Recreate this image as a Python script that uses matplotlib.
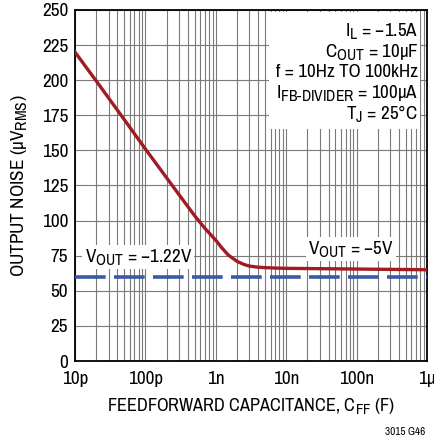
# Output noise vs feedforward capacitance (3015 G46)
import numpy as np
import matplotlib
matplotlib.use('Agg')
import matplotlib.pyplot as plt
from matplotlib.patches import Rectangle
from matplotlib import font_manager
import matplotlib._mathtext as _mt

# Bigger subscripts, closer to the datasheet look.
_mt.SHRINK_FACTOR = 0.82

# Prefer a condensed sans if one is installed, else plain Liberation Sans.
narrow = [f.name for f in font_manager.fontManager.ttflist
          if ('Narrow' in f.name or 'Condensed' in f.name)
          and 'Mono' not in f.name and 'Serif' not in f.name]
if narrow:
    plt.rcParams['font.family'] = [narrow[0], 'Liberation Sans', 'DejaVu Sans']
    fs = 13.2
else:
    plt.rcParams['font.family'] = ['Liberation Sans', 'DejaVu Sans']
    fs = 11.5
plt.rcParams['mathtext.default'] = 'regular'

# --------------------------------------------------------------------------- #
# Data.
cff = [10e-12, 20e-12, 50e-12, 100e-12, 200e-12, 300e-12, 500e-12, 700e-12,
       1e-9, 1.2e-9, 1.5e-9, 2e-9, 2.5e-9, 3e-9, 4e-9, 5e-9, 7e-9, 10e-9,
       100e-9, 1e-6]
noise_5v = [220, 199.5, 172, 151, 130.5, 118.5, 103.5, 94.5,
            86, 81, 75.5, 71, 68.8, 67.6, 66.8, 66.5, 66.2, 66,
            65.5, 65]
cff_flat = [10e-12, 1e-6]
noise_122v = [60, 60]

yticks = [0, 25, 50, 75, 100, 125, 150, 175, 200, 225, 250]
xticks = [10e-12, 100e-12, 1e-9, 10e-9, 100e-9, 1e-6]
xticklabels = ['10p', '100p', '1n', '10n', '100n', '1\u03bc']

conditions = ['I$_L$ = \u22121.5A',
              'C$_{OUT}$ = 10\u03bcF',
              'f = 10Hz TO 100kHz',
              'I$_{FB\u2010DIVIDER}$ = 100\u03bcA',
              'T$_J$ = 25\u00b0C']

# --------------------------------------------------------------------------- #
fig = plt.figure(figsize=(4.35, 4.42), dpi=100)
ax = fig.add_axes([75/435, 81/442, 352/435, 351/442])

ax.set_xscale('log')
ax.set_xlim(10e-12, 1e-6)
ax.set_ylim(0, 250)

# grid
ax.grid(True, which='both', axis='x', color='#7a7a7a', linewidth=0.8)
ax.grid(True, which='major', axis='y', color='#7a7a7a', linewidth=0.8)
ax.set_axisbelow(True)

ax.plot(cff_flat, noise_122v, color='#3a5aa8', linewidth=2.6,
        dashes=(8.5, 2.3), zorder=3)
ax.plot(cff, noise_5v, color='#a01c22', linewidth=2.4, zorder=4,
        solid_joinstyle='round')

ax.set_xticks(xticks)
ax.set_xticklabels(xticklabels)
ax.set_yticks(yticks)
ax.tick_params(which='both', length=0, labelsize=fs + 0.6, pad=5)
ax.tick_params(axis='x', pad=7)
for sp in ax.spines.values():
    sp.set_linewidth(1.3)

ax.set_xlabel('FEEDFORWARD CAPACITANCE, C$_{FF}$ (F)', fontsize=fs, labelpad=7)
ax.set_ylabel('OUTPUT NOISE (\u03bcV$_{RMS}$)', fontsize=fs + 0.6, labelpad=9)

# condition block with white background
ax.add_patch(Rectangle((0.55, 0.66), 0.43, 0.335, transform=ax.transAxes,
                       facecolor='white', edgecolor='none', zorder=2))
for i, s in enumerate(conditions):
    ax.text(0.975, 0.94 - i*0.059, s, transform=ax.transAxes, ha='right',
            va='center', fontsize=fs + 0.5, zorder=5)

box = dict(facecolor='white', edgecolor='none', pad=1.5)
ax.text(0.18, 0.297, 'V$_{OUT}$ = \u22121.22V', transform=ax.transAxes,
        ha='center', va='center', fontsize=fs + 0.5, bbox=box, zorder=5)
ax.text(0.785, 0.32, 'V$_{OUT}$ = \u22125V', transform=ax.transAxes,
        ha='center', va='center', fontsize=fs + 0.5, bbox=box, zorder=5)

fig.text(425/435, 1 - 432/442, '3015 G46', ha='right', va='center', fontsize=8)

fig.savefig('out.png', dpi=100)
